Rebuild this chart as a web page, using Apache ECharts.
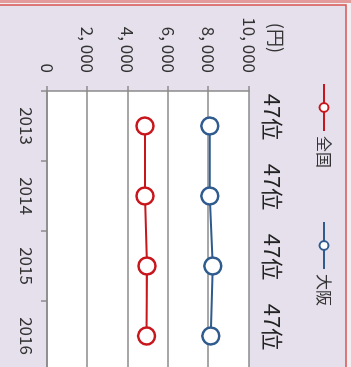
<!DOCTYPE html>
<html>
<head>
<meta charset="utf-8">
<script src="https://cdn.jsdelivr.net/npm/echarts@6/dist/echarts.min.js"></script>
<style>
  html, body { margin: 0; padding: 0; width: 351px; height: 367px; overflow: hidden; background: #fff; }
  /* the chart is drawn upright, then turned 90deg clockwise like the reference */
  #main {
    position: absolute; left: 0; top: 0;
    width: 380px; height: 351px;
    transform-origin: 0 0;
    transform: translate(351px, 0) rotate(90deg);
  }
</style>
</head>
<body>
<div id="main"></div>
<script>
const years = ['2013', '2014', '2015', '2016']
const zenkoku = [4850, 4850, 4950, 4930]
const osaka = [8060, 8060, 8210, 8110]
const ranks = [47, 47, 47, 47]
const yTicks = [0, 2000, 4000, 6000, 8000, 10000]

const font = '"Noto Sans CJK JP", "Noto Sans", sans-serif'
const red = '#C8161D'
const blue = '#2F5B8E'

const myChart = echarts.init(document.getElementById('main'))
myChart.setOption({
  backgroundColor: '#F3EEF1',
  animation: false,
  textStyle: { fontFamily: font, color: '#222' },
  graphic: [
    {
      type: 'rect',
      shape: { x: 5, y: 5, width: 420, height: 400 },
      style: { fill: '#E6E0EC', stroke: '#D9534F', lineWidth: 1.5 },
      z: -10
    },
    {
      type: 'rect',
      shape: { x: 0, y: 0, width: 3, height: 351 },
      style: { fill: '#E29A9A' },
      z: -10
    }
  ],
  legend: {
    left: 78,
    top: 14,
    itemWidth: 47,
    itemHeight: 11,
    itemGap: 53,
    textStyle: { fontFamily: font, fontSize: 16, color: '#333' },
    data: ['全国', '大阪']
  },
  grid: {
    show: true,
    backgroundColor: '#fff',
    borderWidth: 0,
    left: 91,
    right: 9,
    top: 102,
    bottom: 47
  },
  xAxis: [
    {
      type: 'category',
      data: years,
      boundaryGap: true,
      axisLine: { lineStyle: { color: '#8a8a8a', width: 1.5 } },
      axisTick: { show: true, length: 6, lineStyle: { color: '#8a8a8a', width: 1.5 } },
      axisLabel: { fontSize: 17, margin: 12, color: '#333', fontFamily: font }
    },
    {
      type: 'category',
      position: 'top',
      data: ranks,
      axisLine: { show: false },
      axisTick: { show: false },
      axisLabel: {
        fontSize: 22,
        margin: 12,
        color: '#222',
        fontFamily: font,
        padding: [0, 18, 0, 0],
        formatter: v => v + '位'
      }
    }
  ],
  yAxis: {
    type: 'value',
    min: 0,
    max: 10000,
    interval: 2000,
    name: '(円)',
    nameLocation: 'end',
    nameGap: 18,
    nameTextStyle: { fontSize: 18, color: '#333', fontFamily: font, align: 'right', padding: [0, 38, 0, 0] },
    axisLine: { show: true, lineStyle: { color: '#8a8a8a', width: 1.5 } },
    axisTick: { show: true, length: 5, lineStyle: { color: '#8a8a8a', width: 1.5 } },
    splitLine: { show: true, lineStyle: { color: '#8a8a8a', width: 1.5 } },
    axisLabel: {
      fontSize: 17,
      margin: 18,
      color: '#333',
      fontFamily: font,
      formatter: v => yTicks.includes(v) ? String(v).replace(/\B(?=(\d{3})+(?!\d))/g, ', ') : ''
    }
  },
  series: [
    {
      name: '全国',
      type: 'line',
      data: zenkoku,
      symbol: 'circle',
      symbolSize: 17,
      lineStyle: { color: red, width: 2 },
      itemStyle: { color: '#fff', borderColor: red, borderWidth: 2.5 }
    },
    {
      name: '大阪',
      type: 'line',
      data: osaka,
      symbol: 'circle',
      symbolSize: 17,
      lineStyle: { color: blue, width: 2 },
      itemStyle: { color: '#fff', borderColor: blue, borderWidth: 2.5 }
    }
  ]
})
</script>
</body>
</html>
